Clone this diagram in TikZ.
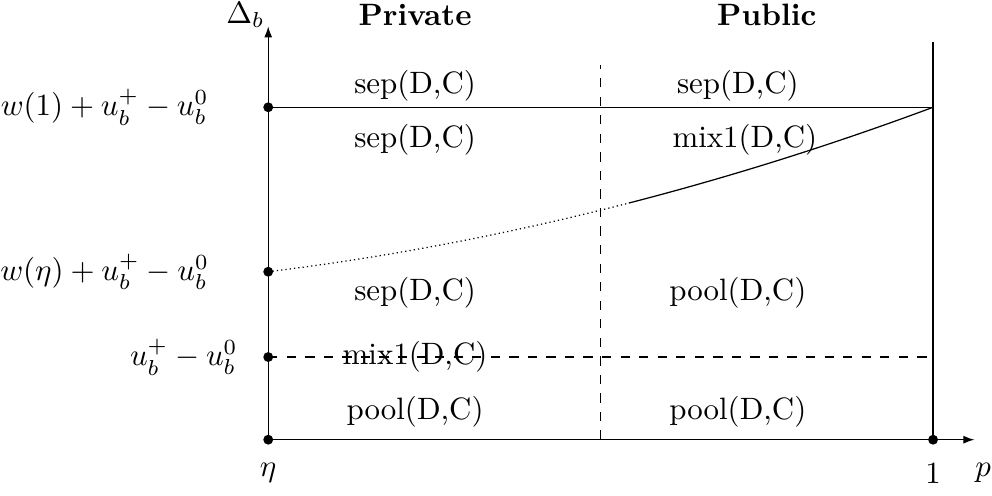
\documentclass[tikz,border=0pt]{standalone}
\usepackage{amssymb,amsfonts}
\usetikzlibrary{calc,arrows.meta}

\begin{document}
\begin{tikzpicture}[axis/.style={-{Latex[length=3.6pt,width=2.6pt]}}]
  \def\xr{7.56}
  \def\xm{3.78}
  \def\yw{3.78}
  \def\ye{1.91}
  \def\yu{0.94}
  \def\f(#1){\ye+0.93*(#1)/\xr+0.94*((#1)/\xr)^2}
  \useasboundingbox(-3.05,-0.64) rectangle (8.23,5.0);
  \coordinate(O) at (0,0);
  \coordinate(X) at (8.03,0);
  \coordinate(Y) at (0,4.7);
  \coordinate(R) at (\xr,0);
  \coordinate(RT) at (\xr,4.52);
  \coordinate(W1) at (0,\yw);
  \coordinate(W1R) at (\xr,\yw);
  \coordinate(WE) at (0,\ye);
  \coordinate(U) at (0,\yu);
  \coordinate(UR) at (\xr,\yu);
  \coordinate(M) at (\xm,0);
  \coordinate(MT) at (\xm,4.26);
  \draw[axis](O)--(X);
  \draw[axis](O)--(Y);
  \draw(R)--(RT);
  \draw(W1)--(W1R);
  \draw[dashed](U)--(UR);
  \draw[dashed](M)--(MT);
  % threshold curve
  \draw[densely dotted]plot[domain=0:4.1, samples=40](\x,{\f(\x)});
  \draw plot[domain=4.1:\xr, samples=40](\x,{\f(\x)});
  \foreach \p in {O,W1,WE,U,R}
  \fill(\p)circle(1.6pt);
  % axis labels
  \node(Db) at (-0.26,4.83) {$\Delta_b$};
  \node(Priv) at (1.67,4.83) {\textbf{Private}};
  \node(Publ) at (5.67,4.83) {\textbf{Public}};
  \node(Eta) at (0,-0.38) {$\eta$};
  \node(One) at (\xr,-0.38) {$1$};
  \node(P) at (8.13,-0.38) {$p$};
  \node(LW1) at (-1.86,\yw) {$w(1)+u_b^+-u_b^0$};
  \node(LWE) at (-1.86,\ye) {$w(\eta)+u_b^+-u_b^0$};
  \node(LU) at (-0.96,\yu) {$u_b^+-u_b^0$};
  % regions
  \node(S1) at (1.67,4.03) {sep(D,C)};
  \node(S2) at (5.34,4.03) {sep(D,C)};
  \node(S3) at (1.67,3.41) {sep(D,C)};
  \node(M1) at (5.42,3.41) {mix1(D,C)};
  \node(S4) at (1.67,1.67) {sep(D,C)};
  \node(P1) at (5.34,1.67) {pool(D,C)};
  \node(M2) at (1.67,\yu) {mix1(D,C)};
  \node(P2) at (1.67,0.32) {pool(D,C)};
  \node(P3) at (5.34,0.32) {pool(D,C)};
\end{tikzpicture}
\end{document}
